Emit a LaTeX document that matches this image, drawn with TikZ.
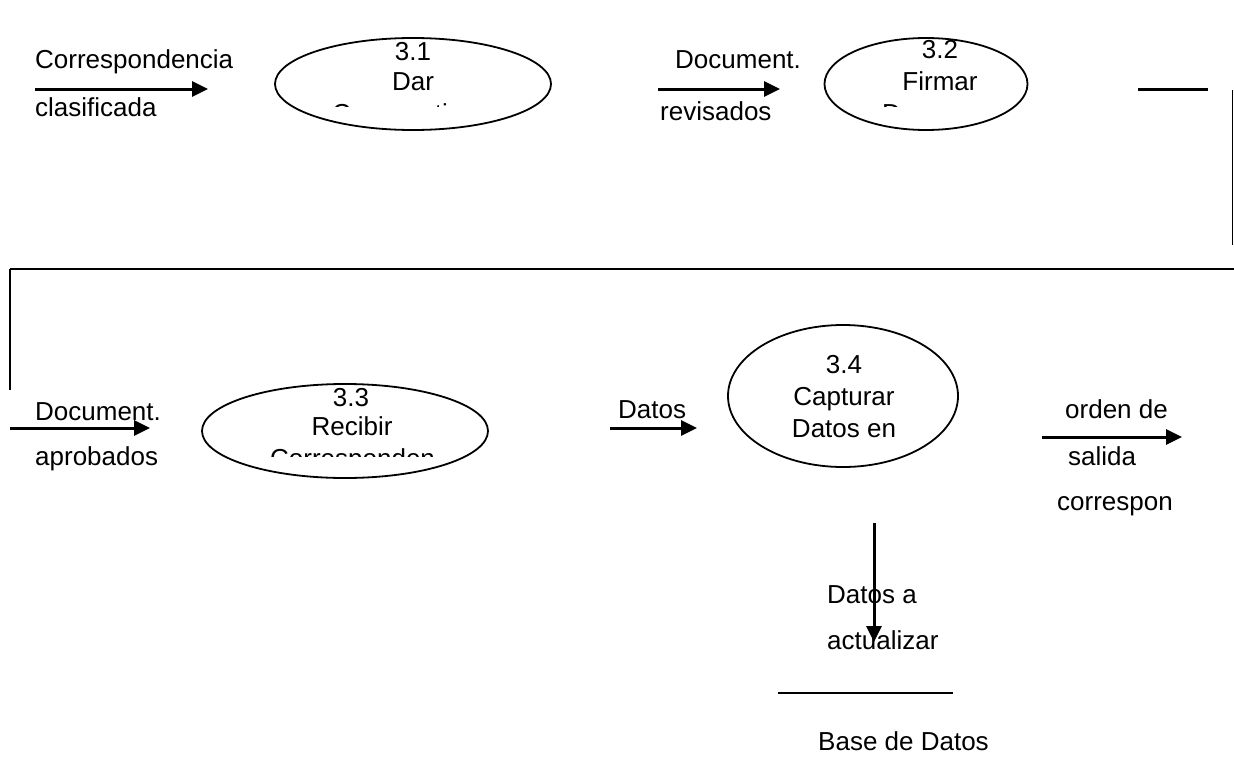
\documentclass[tikz,border=0pt]{standalone}
\usepackage{fontspec}
\setmainfont{Liberation Sans}
\usetikzlibrary{shapes.geometric,arrows.meta}

\tikzset{
	proc/.style={draw, ellipse, line width=1.8pt, inner sep=0pt},
	flow/.style={line width=3pt, -{Triangle[length=16pt,width=15pt]}},
	lbl/.style={anchor=base west, inner sep=0pt},
	ptxt/.style={anchor=base, inner sep=0pt},
	edge/.style={line width=1.5pt},
}

\begin{document}
\begin{tikzpicture}[x=1pt, y=-1pt, every node/.append style={font=\fontsize{26}{30}\selectfont}]
	\useasboundingbox (0,0) rectangle (1234,779);

	% procesos
	\node [proc, minimum width=276pt, minimum height=92pt] (p31) at (413,84) {};
	\node [proc, minimum width=203pt, minimum height=92pt] (p32) at (926,84) {};
	\node [proc, minimum width=286pt, minimum height=94pt] (p33) at (345,431) {};
	\node [proc, minimum width=230pt, minimum height=142pt] (p34) at (843,396) {};

	\node [ptxt] (n31) at (413,60) {3.1};
	\node [ptxt] (d31) at (413,90) {Dar};
	\begin{scope}
		\clip (280,30) rectangle (550,106);
		\node [lbl] (c31) at (332,122) {Consecutivo};
	\end{scope}

	\node [ptxt] (n32) at (940,58) {3.2};
	\node [ptxt] (d32) at (940,90) {Firmar};
	\begin{scope}
		\clip (830,30) rectangle (1025,106);
		\node [lbl] (c32) at (882,122) {Documen};
	\end{scope}

	\node [ptxt] (n33) at (351,406) {3.3};
	\node [ptxt] (d33) at (352,435) {Recibir};
	\begin{scope}
		\clip (205,380) rectangle (485,456);
		\node [lbl] (c33) at (270,467) {Corresponden};
	\end{scope}

	\node [ptxt] (n34) at (844,373) {3.4};
	\node [ptxt] (d34) at (844,405) {Capturar};
	\node [ptxt] (c34) at (844,437) {Datos en};

	% flujos
	\coordinate (a1s) at (35,89);
	\coordinate (a1e) at (208,89);
	\draw [flow] (a1s) -- (a1e);
	\node [lbl] (f1a) at (35,68) {Correspondencia};
	\node [lbl] (f1b) at (35,116) {clasificada};

	\coordinate (a2s) at (658,89);
	\coordinate (a2e) at (780,89);
	\draw [flow] (a2s) -- (a2e);
	\node [lbl] (f2a) at (675,68) {Document.};
	\node [lbl] (f2b) at (660,120) {revisados};

	\coordinate (r1) at (1138,89);
	\coordinate (r2) at (1208,89);
	\draw [line width=3pt] (r1) -- (r2);
	\coordinate (v1) at (1232.5,90);
	\coordinate (v2) at (1232.5,245);
	\draw [edge] (v1) -- (v2);
	\coordinate (h1) at (1234,269);
	\coordinate (h2) at (10,269);
	\coordinate (h3) at (10,390);
	\draw [line width=2.2pt] (h1) -- (h2);
	\draw [edge] (h2) -- (h3);

	\coordinate (a3s) at (10,428);
	\coordinate (a3e) at (150,428);
	\draw [flow] (a3s) -- (a3e);
	\node [lbl] (f3a) at (35,420) {Document.};
	\node [lbl] (f3b) at (35,465) {aprobados};

	\coordinate (a4s) at (610,428);
	\coordinate (a4e) at (697,428);
	\draw [flow] (a4s) -- (a4e);
	\node [lbl] (f4a) at (618,418) {Datos};

	\coordinate (a5s) at (1042,437);
	\coordinate (a5e) at (1182,437);
	\draw [flow] (a5s) -- (a5e);
	\node [lbl] (f5a) at (1065,418) {orden de};
	\node [lbl] (f5b) at (1068,465) {salida};
	\node [lbl] (f5c) at (1057,510) {correspon};

	\node [lbl] (f6a) at (827,603) {Datos a};
	\node [lbl] (f6b) at (827,649) {actualizar};
	\coordinate (a6s) at (874,523);
	\coordinate (a6e) at (874,642);
	\draw [flow] (a6s) -- (a6e);

	% almacen
	\coordinate (b1) at (778,693);
	\coordinate (b2) at (953,693);
	\draw [line width=2pt] (b1) -- (b2);
	\node [lbl] (bd) at (818,750) {Base de Datos};
\end{tikzpicture}
\end{document}
